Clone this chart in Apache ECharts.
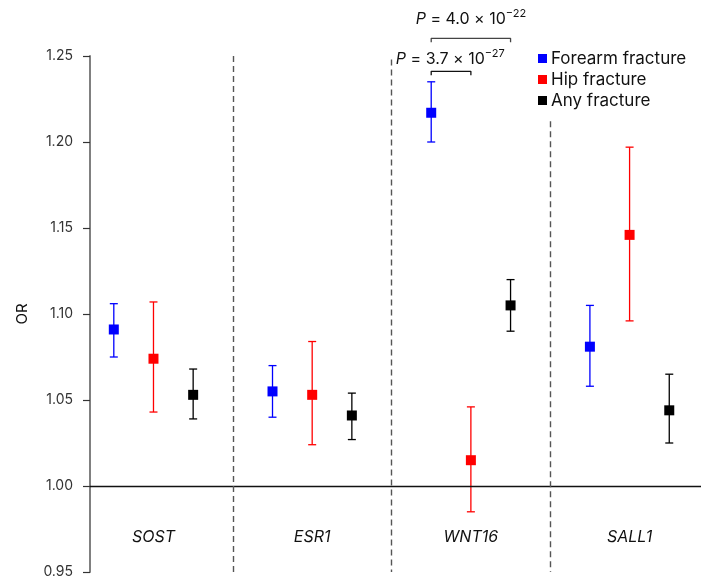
<!DOCTYPE html>
<html>
<head>
<meta charset="utf-8">
<script src="https://cdn.jsdelivr.net/npm/echarts@6/dist/echarts.min.js"></script>
<style>html,body{margin:0;padding:0;background:#fff}#c{width:702px;height:579px}</style>
</head>
<body>
<div id="c"></div>
<script>
const categories = ['SOST', 'ESR1', 'WNT16', 'SALL1'];
const seriesNames = ['Forearm fracture', 'Hip fracture', 'Any fracture'];
const forearmOR   = [1.091, 1.055, 1.217, 1.081];
const forearmLow  = [1.075, 1.040, 1.200, 1.058];
const forearmHigh = [1.106, 1.070, 1.235, 1.105];
const hipOR   = [1.074, 1.053, 1.015, 1.146];
const hipLow  = [1.043, 1.024, 0.985, 1.096];
const hipHigh = [1.107, 1.084, 1.046, 1.197];
const anyOR   = [1.053, 1.041, 1.105, 1.044];
const anyLow  = [1.039, 1.027, 1.090, 1.025];
const anyHigh = [1.068, 1.054, 1.120, 1.065];
const yTicks = [0.95, 1.00, 1.05, 1.10, 1.15, 1.20, 1.25];
const pLabels = ['4.0 × 10', '−22', '3.7 × 10', '−27'];

const colors = ['#0000ff', '#ff0000', '#000000'];
const offsets = [-0.25, 0, 0.25];
const groups = [
  [forearmOR, forearmLow, forearmHigh],
  [hipOR, hipLow, hipHigh],
  [anyOR, anyLow, anyHigh]
];
const FONT = 'Inter, "Noto Sans", sans-serif';

const series = [];
groups.forEach((g, s) => {
  series.push({
    type: 'custom',
    id: 'err' + s,
    silent: true,
    z: 3,
    data: categories.map((c, i) => [i + offsets[s], g[1][i], g[2][i]]),
    renderItem: function (params, api) {
      const x = api.value(0);
      const lo = api.coord([x, api.value(1)]);
      const hi = api.coord([x, api.value(2)]);
      const st = { stroke: colors[s], lineWidth: 1.3 };
      return {
        type: 'group',
        children: [
          { type: 'line', shape: { x1: lo[0], y1: lo[1], x2: hi[0], y2: hi[1] }, style: st },
          { type: 'line', shape: { x1: lo[0] - 4, y1: lo[1], x2: lo[0] + 4, y2: lo[1] }, style: st },
          { type: 'line', shape: { x1: hi[0] - 4, y1: hi[1], x2: hi[0] + 4, y2: hi[1] }, style: st }
        ]
      };
    }
  });
  series.push({
    type: 'scatter',
    name: seriesNames[s],
    symbol: 'rect',
    symbolSize: 10,
    z: 5,
    itemStyle: { color: colors[s], opacity: 1 },
    data: categories.map((c, i) => [i + offsets[s], g[0][i]])
  });
});

// reference lines: 1.00 line and dashed separators
series.push({
  type: 'scatter',
  id: 'refs',
  data: [],
  markLine: {
    silent: true,
    symbol: 'none',
    label: { show: false },
    animation: false,
    data: [
      { yAxis: 1.0, lineStyle: { color: '#111', width: 1.3, type: 'solid' } },
      [{ coord: [0.5, 1.25] }, { coord: [0.5, 0.95] }],
      [{ coord: [1.5, 1.248] }, { coord: [1.5, 0.95] }],
      [{ coord: [2.5, 1.212] }, { coord: [2.5, 0.95] }]
    ],
    lineStyle: { color: '#555', width: 1.4, type: [6, 4], opacity: 1 }
  }
});

// category labels
series.push({
  type: 'scatter',
  id: 'catLabels',
  symbolSize: 0,
  silent: true,
  itemStyle: { opacity: 1 },
  data: categories.map((c, i) => [i, 0.9705]),
  label: {
    show: true,
    position: 'inside',
    formatter: p => categories[p.dataIndex],
    fontStyle: 'italic',
    fontSize: 16,
    fontFamily: FONT,
    color: '#111',
    opacity: 1
  }
});

// significance brackets
series.push({
  type: 'line',
  id: 'br1',
  clip: false,
  silent: true,
  symbol: 'none',
  lineStyle: { color: '#444', width: 1.3 },
  data: [[1.75, 1.2580], [1.75, 1.2603], [2.25, 1.2603], [2.25, 1.2580]]
});
series.push({
  type: 'line',
  id: 'br2',
  clip: false,
  silent: true,
  symbol: 'none',
  lineStyle: { color: '#111', width: 1.3 },
  data: [[1.75, 1.2388], [1.75, 1.2411], [2.0, 1.2411], [2.0, 1.2388]]
});
series.push({
  type: 'scatter',
  id: 'pText',
  clip: false,
  silent: true,
  symbolSize: 0,
  itemStyle: { opacity: 1 },
  data: [[2.0, 1.2712], [1.87, 1.2480]],
  label: {
    show: true,
    position: 'inside',
    opacity: 1,
    formatter: p => p.dataIndex === 0
      ? '{i|P} = ' + pLabels[0] + '{sup|' + pLabels[1] + '}'
      : '{i|P} = ' + pLabels[2] + '{sup|' + pLabels[3] + '}',
    fontSize: 16,
    fontFamily: FONT,
    color: '#111',
    rich: {
      i: { fontStyle: 'italic', fontSize: 16, fontFamily: FONT, color: '#111' },
      sup: { fontSize: 11, fontFamily: FONT, color: '#111', padding: [0, 0, 12, 0] }
    }
  }
});

const chart = echarts.init(document.getElementById('c'), null, { renderer: 'canvas' });
chart.setOption({
  animation: false,
  backgroundColor: '#fff',
  grid: { left: 90, right: 1, top: 56, bottom: 6.5, containLabel: false },
  legend: {
    data: seriesNames.map((n, i) => ({ name: n, icon: 'rect', itemStyle: { color: colors[i], opacity: 1 } })),
    orient: 'vertical',
    left: 533,
    top: 45,
    itemWidth: 9,
    itemHeight: 9,
    itemGap: 4,
    textStyle: { fontSize: 17, fontFamily: FONT, color: '#111', padding: [0, 0, 0, -1] },
    selectedMode: false
  },
  xAxis: {
    type: 'value',
    min: -0.4,
    max: 3.45,
    show: false
  },
  yAxis: {
    type: 'value',
    min: 0.95,
    max: 1.25,
    interval: 0.05,
    name: 'OR',
    nameLocation: 'middle',
    nameRotate: 90,
    nameGap: 60,
    nameTextStyle: { fontSize: 15, fontFamily: FONT, color: '#111' },
    axisLine: { show: true, onZero: false, lineStyle: { color: '#808080', width: 2 } },
    axisTick: { show: true, length: 7, lineStyle: { color: '#333', width: 1.2 }, customValues: yTicks },
    axisLabel: {
      fontSize: 14, fontFamily: FONT, color: '#333', margin: 17,
      customValues: yTicks,
      formatter: v => v.toFixed(2)
    },
    splitLine: { show: false }
  },
  series: series
});
</script>
</body>
</html>
